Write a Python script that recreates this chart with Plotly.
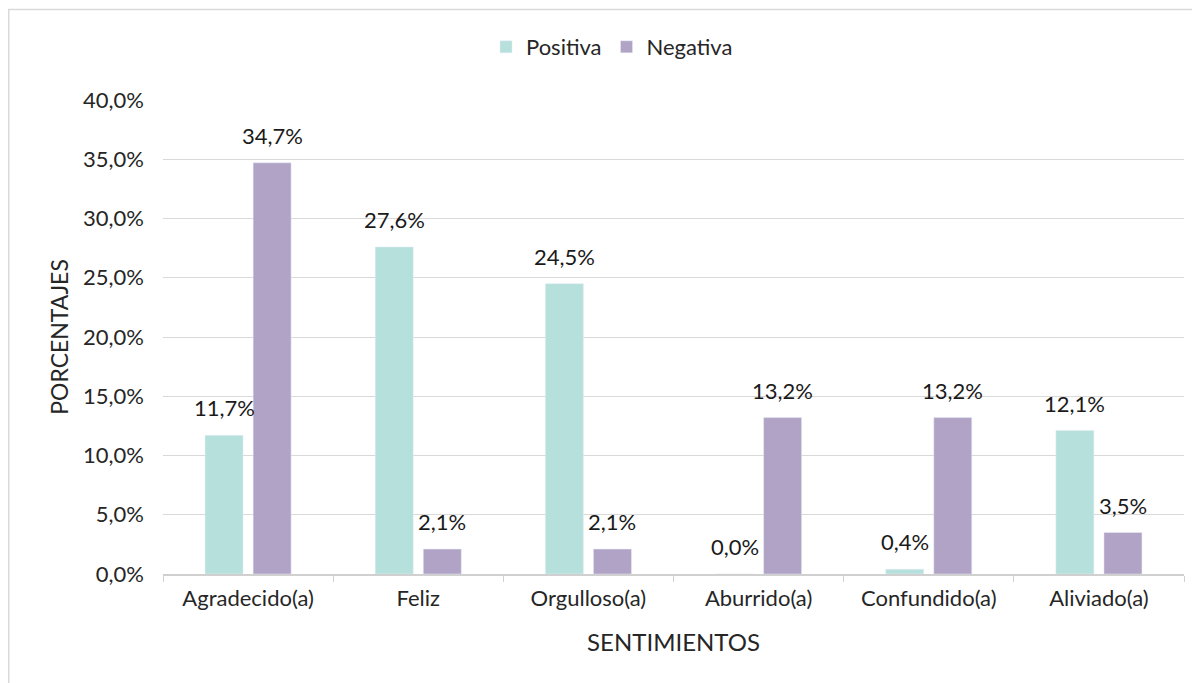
import plotly.graph_objects as go

categories = ["Agradecido(a)", "Feliz", "Orgulloso(a)", "Aburrido(a)", "Confundido(a)", "Aliviado(a)"]
positiva = [0.117, 0.276, 0.245, 0.0, 0.004, 0.121]
negativa = [0.347, 0.021, 0.021, 0.132, 0.132, 0.035]
series = [("Positiva", positiva, "#b6e0dc", -24), ("Negativa", negativa, "#b1a3c6", 24)]

FONT = "Lato"
W, H = 1192, 675  # page body has an 8px margin
L, T, R, B = 155, 92, 16, 109
PW, PH = W - L - R, H - T - B

fig = go.Figure()
annotations = []
for name, vals, color, shift in series:
    fig.add_trace(go.Bar(name=name, x=categories, y=vals, marker_color=color))
    for c, v in zip(categories, vals):
        annotations.append(dict(x=c, y=v, xref="x", yref="y", text=f"{v*100:.1f}%".replace(".", ","),
                                showarrow=False, xshift=shift, yshift=12, yanchor="bottom",
                                font=dict(size=22, color="#1a1a1a", family=FONT)))

fig.update_layout(
    width=W, height=H,
    separators=",.",
    font=dict(family=FONT, size=22, color="#262626"),
    paper_bgcolor="white", plot_bgcolor="white",
    margin=dict(l=L, r=R, t=T, b=B),
    barmode="group", bargap=0.435, bargroupgap=0.21,
    legend=dict(orientation="h", x=(604 - L) / PW, xanchor="center", y=1 + (T - 39) / PH, yanchor="middle",
                font=dict(size=22), itemwidth=30),
    xaxis=dict(title=dict(text="SENTIMIENTOS", font=dict(size=24), standoff=24),
               showline=True, linecolor="#d0d0d0", linewidth=1.5,
               ticks="outside", tickson="boundaries", ticklen=6, tickcolor="#d0d0d0",
               ticklabelstandoff=4, tickfont=dict(size=22)),
    yaxis=dict(title=dict(text="PORCENTAJES", font=dict(size=23), standoff=8),
               range=[0, 0.40], dtick=0.05, tickformat=".1%",
               showgrid=True, gridcolor="#d9d9d9", gridwidth=1,
               zeroline=False, showline=False, ticks="", ticklabelstandoff=18,
               tickfont=dict(size=22)),
    annotations=annotations,
    shapes=[dict(type="rect", xref="paper", yref="paper",
                 x0=(0.75 - L) / PW, x1=(W + 20 - L) / PW,
                 y0=-0.3, y1=1 + (T - 1.5) / PH,
                 line=dict(color="#d9d9d9", width=1.5), layer="below")],
)
fig.write_html("out.html")
